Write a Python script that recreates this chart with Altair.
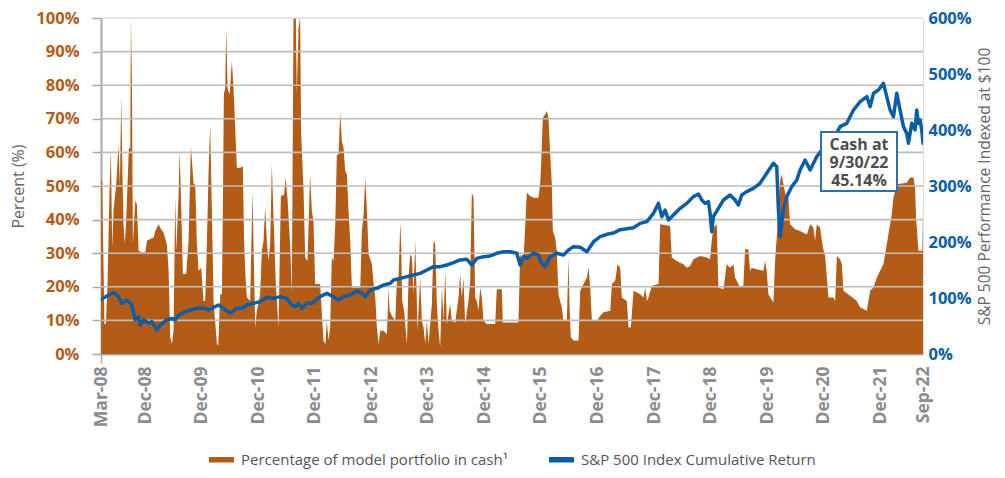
import altair as alt
import pandas as pd

# ---------------- data ----------------
cash_label = "Percentage of model portfolio in cash\u00b9"
spx_label = "S&P 500 Index Cumulative Return"

# decimal-year dates and % of portfolio in cash
cash_t = [
    2008.167, 2008.185, 2008.205, 2008.225, 2008.250, 2008.279, 2008.314, 2008.338, 2008.362, 2008.385,
    2008.432, 2008.474, 2008.497, 2008.521, 2008.544, 2008.562, 2008.586, 2008.615, 2008.656, 2008.680,
    2008.692, 2008.709, 2008.727, 2008.768, 2008.798, 2008.827, 2008.886, 2008.945, 2008.975, 2009.034,
    2009.093, 2009.122, 2009.181, 2009.210, 2009.269, 2009.328, 2009.358, 2009.387, 2009.417, 2009.446,
    2009.476, 2009.493, 2009.535, 2009.552, 2009.576, 2009.611, 2009.670, 2009.711, 2009.753, 2009.800,
    2009.829, 2009.859, 2009.888, 2009.935, 2009.976, 2010.006, 2010.035, 2010.065, 2010.094, 2010.124,
    2010.154, 2010.213, 2010.236, 2010.272, 2010.301, 2010.319, 2010.336, 2010.360, 2010.378, 2010.401,
    2010.437, 2010.478, 2010.507, 2010.537, 2010.566, 2010.625, 2010.672, 2010.696, 2010.720, 2010.743,
    2010.802, 2010.843, 2010.861, 2010.891, 2010.920, 2010.979, 2011.008, 2011.038, 2011.067, 2011.097,
    2011.126, 2011.156, 2011.185, 2011.215, 2011.256, 2011.303, 2011.345, 2011.403, 2011.427, 2011.462,
    2011.509, 2011.539, 2011.568, 2011.610, 2011.627, 2011.657, 2011.686, 2011.704, 2011.745, 2011.775,
    2011.816, 2011.863, 2011.893, 2011.922, 2011.952, 2012.040, 2012.099, 2012.134, 2012.158, 2012.187,
    2012.217, 2012.246, 2012.276, 2012.305, 2012.335, 2012.364, 2012.394, 2012.423, 2012.453, 2012.482,
    2012.512, 2012.541, 2012.571, 2012.600, 2012.748, 2012.777, 2012.807, 2012.836, 2012.866, 2012.895,
    2012.954, 2012.984, 2013.013, 2013.042, 2013.072, 2013.101, 2013.160, 2013.219, 2013.249, 2013.266,
    2013.307, 2013.366, 2013.396, 2013.425, 2013.455, 2013.472, 2013.490, 2013.525, 2013.573, 2013.602,
    2013.632, 2013.661, 2013.691, 2013.720, 2013.738, 2013.761, 2013.808, 2013.838, 2013.867, 2013.897,
    2013.926, 2013.956, 2014.015, 2014.044, 2014.074, 2014.103, 2014.133, 2014.162, 2014.192, 2014.221,
    2014.251, 2014.280, 2014.339, 2014.368, 2014.427, 2014.486, 2014.516, 2014.545, 2014.575, 2014.604,
    2014.663, 2014.693, 2014.722, 2014.752, 2014.781, 2014.811, 2014.840, 2014.870, 2014.899, 2014.928,
    2014.988, 2015.135, 2015.164, 2015.253, 2015.270, 2015.547, 2015.577, 2015.636, 2015.695, 2015.754,
    2015.813, 2015.901, 2015.931, 2015.948, 2015.978, 2016.019, 2016.049, 2016.078, 2016.108, 2016.137,
    2016.155, 2016.196, 2016.225, 2016.255, 2016.284, 2016.314, 2016.343, 2016.402, 2016.432, 2016.449,
    2016.473, 2016.520, 2016.609, 2016.638, 2016.697, 2016.756, 2016.786, 2016.815, 2016.845, 2016.933,
    2016.992, 2017.051, 2017.169, 2017.198, 2017.257, 2017.298, 2017.345, 2017.375, 2017.463, 2017.493,
    2017.534, 2017.581, 2017.699, 2017.758, 2017.788, 2017.817, 2017.847, 2017.906, 2018.023, 2018.052,
    2018.229, 2018.258, 2018.346, 2018.464, 2018.523, 2018.582, 2018.641, 2018.759, 2018.877, 2018.936,
    2018.965, 2018.995, 2019.054, 2019.083, 2019.172, 2019.231, 2019.290, 2019.349, 2019.378, 2019.467,
    2019.525, 2019.555, 2019.614, 2019.643, 2019.673, 2019.761, 2019.879, 2019.909, 2019.938, 2019.968,
    2020.056, 2020.086, 2020.115, 2020.174, 2020.203, 2020.233, 2020.292, 2020.321, 2020.351, 2020.439,
    2020.528, 2020.646, 2020.705, 2020.763, 2020.793, 2020.822, 2020.881, 2020.929, 2020.970, 2021.000,
    2021.029, 2021.117, 2021.147, 2021.176, 2021.235, 2021.265, 2021.294, 2021.412, 2021.530, 2021.589,
    2021.707, 2021.766, 2021.825, 2021.884, 2021.942, 2022.001, 2022.060, 2022.119, 2022.149, 2022.178,
    2022.237, 2022.414, 2022.473, 2022.532, 2022.561, 2022.579, 2022.620, 2022.690, 2022.703,
]
cash_v = [
    51.5, 51.5, 29.7, 8.9, 8.9, 20.8, 48.5, 60.9, 31.7, 42.6,
    50.5, 62.4, 50.0, 76.5, 52.5, 38.6, 32.7, 42.6, 61.4, 61.0,
    100, 82.2, 32.7, 45.5, 44.6, 30.7, 30.2, 30.2, 33.7, 34.2,
    34.7, 36.6, 38.6, 37.6, 36.1, 32.7, 24.8, 5.0, 3.0, 6.9,
    47.0, 30.7, 47.5, 60.4, 47.5, 23.8, 23.8, 33.7, 61.9, 50.5,
    50.5, 32.7, 24.8, 25.7, 15.8, 15.8, 32.7, 54.0, 68.3, 42.6,
    15.8, 3.0, 2.5, 17.8, 17.8, 44.6, 77.2, 79.2, 97.0, 79.2,
    77.2, 87.1, 79.2, 67.3, 55.4, 55.4, 55.9, 32.7, 22.8, 16.8,
    15.8, 48.5, 32.7, 7.9, 12.9, 17.8, 30.7, 33.7, 43.6, 33.7,
    27.7, 32.7, 56.4, 40.6, 20.8, 7.9, 47.0, 47.5, 52.5, 46.5,
    32.7, 17.8, 100, 100, 77.2, 97.0, 100, 65.3, 49.5, 28.7,
    27.7, 53.5, 42.6, 39.6, 20.8, 20.8, 4.0, 3.0, 9.9, 4.0,
    7.9, 28.7, 27.7, 37.6, 59.4, 59.4, 71.8, 63.4, 61.4, 54.5,
    53.5, 42.6, 33.7, 19.8, 19.8, 36.6, 41.6, 52.5, 42.6, 29.7,
    26.7, 20.8, 16.8, 7.9, 3.0, 6.9, 6.9, 5.9, 19.8, 12.9,
    11.4, 9.9, 21.8, 22.8, 39.1, 32.7, 15.8, 12.9, 3.0, 22.8,
    29.7, 28.7, 17.8, 33.7, 22.8, 6.9, 22.8, 9.9, 7.9, 3.0,
    9.9, 3.0, 14.9, 33.7, 32.7, 14.9, 6.9, 2.0, 19.8, 9.9,
    24.8, 8.9, 14.9, 9.9, 9.4, 16.8, 23.8, 16.8, 22.8, 8.9,
    15.8, 21.8, 48.0, 46.5, 16.8, 15.8, 12.9, 19.8, 16.8, 9.9,
    8.9, 8.9, 19.3, 19.3, 9.4, 9.4, 29.7, 27.7, 48.0, 47.0,
    46.5, 46.5, 50.5, 56.4, 70.3, 71.3, 72.3, 70.3, 59.9, 50.5,
    36.6, 34.7, 30.7, 17.8, 15.8, 13.9, 9.9, 9.9, 28.7, 15.0,
    5.0, 4.0, 4.0, 18.8, 20.8, 22.8, 25.7, 19.8, 9.9, 9.9,
    11.4, 12.4, 12.9, 20.8, 21.8, 26.7, 25.7, 16.8, 15.8, 7.9,
    7.9, 18.8, 17.8, 16.8, 19.8, 15.8, 16.8, 20.3, 20.8, 38.6,
    38.1, 28.7, 27.7, 26.7, 25.7, 26.2, 28.2, 29.2, 28.7, 28.2,
    33.7, 37.6, 38.6, 19.8, 19.3, 26.7, 25.7, 26.7, 22.8, 19.8,
    20.3, 31.2, 31.2, 24.8, 25.7, 25.2, 24.8, 27.7, 24.8, 17.8,
    15.3, 27.7, 34.7, 51.5, 53.5, 50.5, 45.5, 46.5, 38.6, 37.1,
    36.6, 35.6, 38.6, 37.6, 33.7, 38.6, 37.6, 31.7, 29.2, 22.8,
    16.8, 16.8, 15.8, 29.2, 28.2, 26.7, 18.8, 17.3, 15.8, 13.9,
    12.9, 18.8, 19.8, 22.8, 24.8, 26.7, 32.7, 38.6, 41.6, 46.5,
    50.5, 51.0, 52.5, 52.5, 49.5, 40.6, 30.7, 30.7, 45.14,
]

# decimal-year dates and S&P 500 cumulative return (indexed at 100)
spx_t = [
    2008.167, 2008.267, 2008.385, 2008.474, 2008.532, 2008.621, 2008.709, 2008.768, 2008.827, 2008.857,
    2008.916, 2009.004, 2009.063, 2009.151, 2009.210, 2009.328, 2009.417, 2009.476, 2009.535, 2009.623,
    2009.741, 2009.859, 2010.006, 2010.065, 2010.242, 2010.330, 2010.448, 2010.566, 2010.655, 2010.743,
    2010.861, 2010.979, 2011.097, 2011.215, 2011.333, 2011.450, 2011.539, 2011.598, 2011.657, 2011.716,
    2011.804, 2011.893, 2012.040, 2012.158, 2012.276, 2012.364, 2012.453, 2012.571, 2012.689, 2012.777,
    2012.836, 2012.925, 2013.042, 2013.101, 2013.160, 2013.278, 2013.337, 2013.455, 2013.573, 2013.691,
    2013.808, 2013.926, 2014.044, 2014.162, 2014.280, 2014.398, 2014.516, 2014.634, 2014.722, 2014.811,
    2014.928, 2015.046, 2015.164, 2015.282, 2015.400, 2015.518, 2015.577, 2015.636, 2015.695, 2015.813,
    2015.901, 2015.960, 2016.019, 2016.108, 2016.225, 2016.343, 2016.432, 2016.520, 2016.638, 2016.756,
    2016.874, 2016.992, 2017.110, 2017.228, 2017.345, 2017.463, 2017.581, 2017.699, 2017.816, 2017.934,
    2018.022, 2018.081, 2018.140, 2018.199, 2018.288, 2018.405, 2018.523, 2018.641, 2018.730, 2018.789,
    2018.847, 2018.906, 2018.936, 2018.965, 2018.995, 2019.083, 2019.172, 2019.290, 2019.378, 2019.437,
    2019.496, 2019.584, 2019.702, 2019.820, 2019.938, 2020.056, 2020.115, 2020.145, 2020.174, 2020.233,
    2020.292, 2020.380, 2020.469, 2020.528, 2020.616, 2020.705, 2020.763, 2020.822, 2020.911, 2020.999,
    2021.117, 2021.235, 2021.353, 2021.471, 2021.589, 2021.707, 2021.766, 2021.825, 2021.913, 2022.001,
    2022.060, 2022.119, 2022.178, 2022.237, 2022.296, 2022.355, 2022.414, 2022.444, 2022.503, 2022.561,
    2022.591, 2022.620, 2022.650, 2022.679, 2022.703,
]
spx_v = [
    97.6, 103.6, 109.5, 102.4, 90.5, 96.4, 87.5, 60.7, 66.7, 51.8,
    60.7, 54.8, 57.7, 42.9, 51.8, 60.7, 63.7, 60.7, 69.6, 73.8,
    78.6, 81.5, 81.5, 78.6, 87.5, 81.5, 72.6, 81.5, 81.5, 87.5,
    90.5, 93.5, 101.2, 99.4, 102.4, 99.4, 87.5, 84.5, 90.5, 81.5,
    90.5, 90.5, 102.4, 108.3, 102.4, 96.4, 102.4, 105.4, 112.5, 108.3,
    102.4, 114.3, 117.3, 120.2, 123.2, 126.2, 132.1, 135.1, 138.1, 141.1,
    144.0, 150.0, 156.0, 156.0, 158.9, 163.1, 167.9, 169.0, 158.9, 170.8,
    173.8, 175.0, 179.8, 182.7, 182.7, 179.8, 158.9, 173.8, 170.8, 179.8,
    176.8, 161.9, 156.0, 173.8, 179.8, 176.8, 185.7, 191.7, 190.5, 182.7,
    200.6, 209.5, 213.7, 216.1, 222.0, 223.8, 225.6, 233.3, 236.3, 251.2,
    269.0, 245.2, 257.1, 239.3, 248.2, 260.1, 269.0, 281.0, 285.7, 275.0,
    269.0, 272.0, 251.2, 218.5, 245.2, 260.1, 275.0, 283.9, 275.0, 266.1,
    283.9, 289.9, 295.8, 304.8, 322.6, 340.5, 334.5, 257.1, 209.5, 257.1,
    281.0, 298.8, 310.7, 328.6, 346.4, 328.6, 340.5, 352.4, 364.3, 370.2,
    385.1, 406.0, 411.9, 435.7, 450.6, 459.5, 441.7, 465.5, 471.4, 483.3,
    459.5, 435.7, 423.8, 465.5, 435.7, 406.0, 394.0, 376.2, 411.9, 400.0,
    435.7, 411.9, 417.9, 400.0, 376.2,
]

x_tick_dates = [(2008, 3, 1)] + [(y, 12, 12) for y in range(2008, 2022)] + [(2022, 9, 14)]
x_domain = [(2008, 3, 1), (2022, 9, 14)]
left_ticks = list(range(0, 101, 10))
right_ticks = list(range(0, 601, 100))
grid_levels = list(range(10, 101, 10))
ann_lines = ["Cash at", "9/30/22", f"{cash_v[-1]:.2f}%"]

# ---------------- styling ----------------
ORANGE = "#B35C15"
BLUE = "#0A5DA8"
GRAY_LBL = "#8c8c8c"
GRAY_TTL = "#666666"
FONT = "Open Sans"


def to_ts(t):
    y = int(t)
    start = pd.Timestamp(year=y, month=1, day=1)
    ndays = 366 if y % 4 == 0 else 365
    return (start + pd.Timedelta(days=(t - y) * ndays)).strftime("%Y-%m-%dT%H:%M:%S")


cash_df = pd.DataFrame({"date": [to_ts(t) for t in cash_t], "cash": cash_v,
                        "series": cash_label})
spx_df = pd.DataFrame({"date": [to_ts(t) for t in spx_t], "spx": spx_v,
                       "series": spx_label})
grid_df = pd.DataFrame({"g": grid_levels})
one_df = pd.DataFrame({"k": [0]})

dt = lambda d: alt.DateTime(year=d[0], month=d[1], date=d[2])

x_scale = alt.Scale(domain=[dt(d) for d in x_domain])
x_axis = alt.Axis(
    values=[dt(d) for d in x_tick_dates], format="%b-%y", title=None,
    labelAngle=270, labelAlign="right", labelBaseline="middle",
    labelFont=FONT, labelFontSize=17.5, labelFontWeight="bold", labelColor=GRAY_LBL,
    labelPadding=3, labelFlush=False, labelOverlap=False,
    ticks=True, tickSize=9, tickWidth=1.5,
    tickColor={"condition": {"test": "datum.value < datetime(2008, 3, 1)", "value": "#aaaaaa"},
               "value": "transparent"},
    domainColor="#aaaaaa", domainWidth=2, grid=False,
)

legend = alt.Legend(
    orient="none", legendX=105, legendY=426, direction="horizontal", title=None,
    symbolType="stroke", symbolSize=625, symbolStrokeWidth=5.5,
    labelFont=FONT, labelFontSize=15, labelColor="#555555", labelLimit=500,
    labelOffset=4, columnPadding=30, padding=0,
)
color_scale = alt.Scale(domain=[cash_label, spx_label], range=[ORANGE, BLUE])

area = alt.Chart(cash_df).mark_area(clip=True, opacity=1).encode(
    x=alt.X("date:T", scale=x_scale, axis=x_axis),
    y=alt.Y("cash:Q", scale=alt.Scale(domain=[0, 100]),
            axis=alt.Axis(values=left_ticks, labelExpr="datum.value + '%'",
                          title="Percent (%)", titleFont=FONT, titleFontSize=16,
                          titleFontWeight="normal", titleColor=GRAY_TTL, titlePadding=9,
                          labelFont=FONT, labelFontSize=16.5, labelFontWeight="bold",
                          labelColor=ORANGE, labelPadding=13,
                          tickSize=9, tickWidth=1.5, tickColor="#aaaaaa",
                          domainColor="#aaaaaa", domainWidth=2, grid=False)),
    color=alt.Color("series:N", scale=color_scale, legend=legend),
)

grid = alt.Chart(grid_df).mark_rule(strokeWidth=1.6).encode(
    y=alt.Y("g:Q", scale=alt.Scale(domain=[0, 100]), axis=None),
    stroke=alt.condition("datum.g == 100", alt.value("#e2e2e2"), alt.value("#bdbdbd")),
)

line = alt.Chart(spx_df).mark_line(clip=True, strokeWidth=3.5, strokeJoin="round",
                                   strokeCap="round").encode(
    x=alt.X("date:T", scale=x_scale),
    y=alt.Y("spx:Q", scale=alt.Scale(domain=[0, 600]),
            axis=alt.Axis(orient="right", values=right_ticks, labelExpr="datum.value + '%'",
                          title="S&P 500 Performance Indexed at $100", titleFont=FONT,
                          titleFontSize=15.5, titleFontWeight="normal", titleColor=GRAY_TTL,
                          titleAngle=270, titleBaseline="top", titlePadding=6,
                          labelFont=FONT, labelFontSize=16.5, labelFontWeight="bold",
                          labelColor=BLUE, labelPadding=5, ticks=False, tickSize=0,
                          domain=False, grid=False)),
    color=alt.Color("series:N", scale=color_scale, legend=legend),
)

box = alt.Chart(one_df).mark_rect(fill="white", stroke="#2f70b3", strokeWidth=2).encode(
    x=alt.value(720), x2=alt.value(796), y=alt.value(114), y2=alt.value(173),
)
ann = alt.Chart(one_df).mark_text(
    text=ann_lines, font=FONT, fontSize=16, fontWeight="bold", color="#4d4d4d",
    align="center", baseline="middle", lineHeight=18,
).encode(x=alt.value(758), y=alt.value(127))

chart = alt.layer(area, grid, line, box, ann).resolve_scale(y="independent").properties(
    width=822, height=336,
    autosize=alt.AutoSizeParams(type="none"),
    padding={"left": 93, "top": 10, "right": 74, "bottom": 116},
).configure_view(stroke=None).configure(font=FONT, background="white")

chart.save("out.html", embed_options={"renderer": "svg", "actions": False})
